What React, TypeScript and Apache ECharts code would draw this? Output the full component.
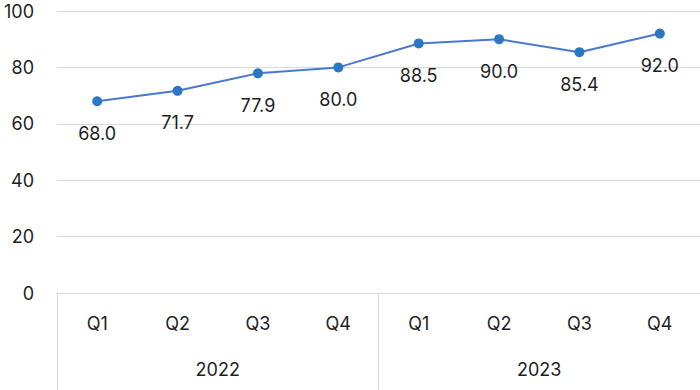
import React, { useEffect, useRef } from "react";
import * as echarts from "echarts";

const quarters = ["Q1", "Q2", "Q3", "Q4", "Q1", "Q2", "Q3", "Q4"];
const years = ["2022", "2023"];
const values = [68.0, 71.7, 77.9, 80.0, 88.5, 90.0, 85.4, 92.0];
const yTicks = { min: 0, max: 100, interval: 20 };

const FONT = "Inter, 'Noto Sans', sans-serif";
const TXT = "#1e1e1e";

export default function App() {
  const ref = useRef<HTMLDivElement>(null);
  useEffect(() => {
    if (!ref.current) return;
    const chart = echarts.init(ref.current, null, { renderer: "svg" });
    chart.setOption({
      animation: false,
      textStyle: { fontFamily: FONT },
      grid: { left: 57, right: 0, top: 11, bottom: 97, containLabel: false },
      xAxis: [
        {
          type: "category",
          data: quarters,
          position: "bottom",
          boundaryGap: true,
          axisLine: { show: true, lineStyle: { color: "#d9d9d9", width: 1 } },
          axisTick: { show: false },
          axisLabel: { color: TXT, fontSize: 18, margin: 21, fontFamily: FONT },
        },
        {
          type: "category",
          data: years,
          position: "bottom",
          boundaryGap: true,
          axisLine: { show: false },
          axisTick: { show: true, length: 97, lineStyle: { color: "#d9d9d9", width: 1 } },
          axisLabel: { color: TXT, fontSize: 18, margin: 67, fontFamily: FONT },
        },
      ],
      yAxis: {
        type: "value",
        min: yTicks.min,
        max: yTicks.max,
        interval: yTicks.interval,
        axisLine: { show: false },
        axisTick: { show: false },
        axisLabel: { color: TXT, fontSize: 18, margin: 23, fontFamily: FONT },
        splitLine: { lineStyle: { color: "#d9d9d9", width: 1 } },
      },
      series: [
        {
          type: "line",
          data: values,
          xAxisIndex: 0,
          symbol: "circle",
          symbolSize: 10,
          lineStyle: { color: "#4a78cf", width: 2 },
          itemStyle: { color: "#2a77c4" },
          label: {
            show: true,
            position: "bottom",
            distance: 18,
            color: TXT,
            fontSize: 18,
            fontFamily: FONT,
            formatter: (p: any) => Number(p.value).toFixed(1),
          },
        },
      ],
    });
    return () => chart.dispose();
  }, []);
  return <div ref={ref} style={{ width: 700, height: 390, position: "absolute", left: 0, top: 0 }} />;
}
